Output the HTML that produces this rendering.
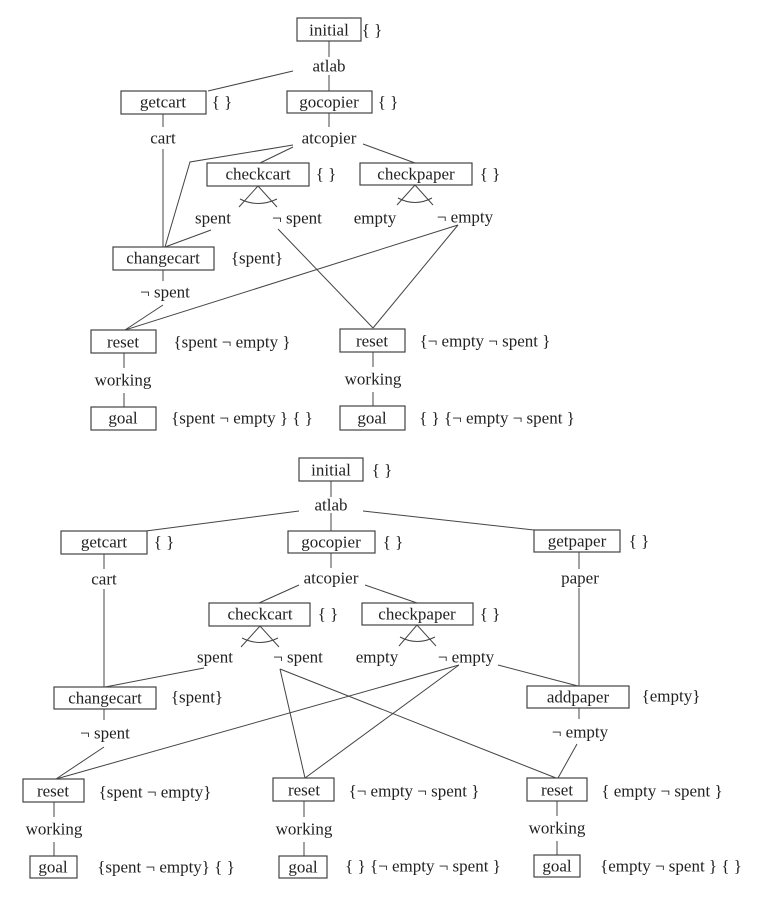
<!DOCTYPE html>
<html><head><meta charset="utf-8"><style>
html,body{margin:0;padding:0;background:#fff;}
svg{display:block;}
text{font-family:"Liberation Serif",serif;font-size:17px;fill:#222;text-anchor:middle;dominant-baseline:central;}
rect{fill:none;stroke:#444;stroke-width:1.2;}
line,polyline,path{stroke:#444;stroke-width:1;fill:none;}
</style></head><body>
<svg width="763" height="898" viewBox="0 0 763 898">
<!-- TOP -->
<rect x="297" y="18" width="64" height="23"/><text x="329" y="30">initial</text><text x="372" y="30">{ }</text>
<line x1="329" y1="41" x2="329" y2="57"/><text x="329" y="66">atlab</text>
<line x1="329" y1="75" x2="329" y2="91"/>
<line x1="293" y1="71" x2="208" y2="91"/>
<rect x="121" y="91" width="85" height="23"/><text x="163" y="102">getcart</text><text x="222" y="102">{ }</text>
<rect x="287" y="91" width="85" height="22"/><text x="329" y="102">gocopier</text><text x="388" y="102">{ }</text>
<line x1="329" y1="113" x2="329" y2="127"/><text x="329" y="138">atcopier</text>
<line x1="163" y1="114" x2="163" y2="127"/><text x="163" y="138">cart</text>
<line x1="163" y1="149" x2="163" y2="247"/>
<polyline points="293,145 190,162 165,247"/>
<line x1="293" y1="147" x2="260" y2="163"/>
<line x1="363" y1="144" x2="415" y2="163"/>
<rect x="207" y="163" width="102" height="23"/><text x="258" y="174">checkcart</text><text x="326" y="174">{ }</text>
<rect x="360" y="163" width="112" height="22"/><text x="416" y="174">checkpaper</text><text x="490" y="174">{ }</text>
<polyline points="239,207 258,186 277,207"/><path d="M240,199 Q258,208 277,199"/>
<polyline points="397,205 415,185 433,205"/><path d="M398,198 Q415,207 432,198"/>
<text x="213" y="218">spent</text><text x="297" y="218">¬ spent</text>
<text x="375" y="218">empty</text><text x="465" y="217">¬ empty</text>
<line x1="211" y1="230" x2="165" y2="247"/>
<rect x="113" y="247" width="101" height="23"/><text x="163" y="258">changecart</text><text x="257" y="258">{spent}</text>
<line x1="163" y1="270" x2="163" y2="281"/><text x="165" y="292">¬ spent</text>
<line x1="163" y1="305" x2="125" y2="330"/>
<line x1="278" y1="229" x2="373" y2="328"/>
<line x1="458" y1="225" x2="373" y2="328"/>
<line x1="458" y1="225" x2="125" y2="330"/>
<rect x="91" y="330" width="65" height="23"/><text x="123" y="342">reset</text><text x="232" y="342">{spent ¬ empty }</text>
<rect x="340" y="329" width="65" height="23"/><text x="372" y="341">reset</text><text x="485" y="341">{¬ empty ¬ spent }</text>
<line x1="124" y1="353" x2="124" y2="368"/><text x="123" y="380">working</text><line x1="124" y1="393" x2="124" y2="407"/>
<line x1="373" y1="352" x2="373" y2="367"/><text x="373" y="379">working</text><line x1="373" y1="392" x2="373" y2="406"/>
<rect x="91" y="407" width="65" height="23"/><text x="123" y="418">goal</text><text x="242" y="418">{spent ¬ empty } { }</text>
<rect x="340" y="406" width="65" height="24"/><text x="372" y="418">goal</text><text x="497" y="418">{ } {¬ empty ¬ spent }</text>

<!-- BOTTOM -->
<rect x="299" y="458" width="64" height="23"/><text x="331" y="470">initial</text><text x="382" y="470">{ }</text>
<line x1="331" y1="481" x2="331" y2="497"/><text x="331" y="505">atlab</text>
<line x1="331" y1="513" x2="331" y2="531"/>
<line x1="299" y1="511" x2="146" y2="531"/>
<line x1="363" y1="511" x2="534" y2="530"/>
<rect x="61" y="531" width="86" height="23"/><text x="104" y="542">getcart</text><text x="164" y="542">{ }</text>
<rect x="288" y="531" width="87" height="22"/><text x="331" y="542">gocopier</text><text x="393" y="542">{ }</text>
<rect x="534" y="530" width="86" height="22"/><text x="577" y="541">getpaper</text><text x="639" y="541">{ }</text>
<line x1="104" y1="554" x2="104" y2="569"/><text x="104" y="579">cart</text><line x1="104" y1="589" x2="104" y2="687"/>
<line x1="331" y1="553" x2="331" y2="568"/><text x="331" y="578">atcopier</text>
<line x1="579" y1="552" x2="579" y2="569"/><text x="580" y="578">paper</text><line x1="579" y1="588" x2="579" y2="686"/>
<line x1="299" y1="585" x2="259" y2="603"/>
<line x1="365" y1="585" x2="417" y2="603"/>
<rect x="209" y="603" width="101" height="23"/><text x="260" y="614">checkcart</text><text x="328" y="614">{ }</text>
<rect x="362" y="603" width="111" height="22"/><text x="417" y="614">checkpaper</text><text x="490" y="614">{ }</text>
<polyline points="241,647 260,626 279,647"/><path d="M242,638 Q260,647 278,638"/>
<polyline points="399,646 417,625 436,646"/><path d="M400,637 Q417,646 435,637"/>
<text x="215" y="657">spent</text><text x="298" y="657">¬ spent</text>
<text x="377" y="657">empty</text><text x="466" y="657">¬ empty</text>
<line x1="204" y1="668" x2="105" y2="687"/>
<line x1="280" y1="669" x2="305" y2="778"/>
<line x1="280" y1="669" x2="556" y2="778"/>
<line x1="459" y1="665" x2="56" y2="779"/>
<line x1="459" y1="665" x2="305" y2="778"/>
<line x1="498" y1="665" x2="578" y2="686"/>
<rect x="54" y="687" width="102" height="22"/><text x="105" y="698">changecart</text><text x="197" y="697">{spent}</text>
<rect x="527" y="686" width="102" height="22"/><text x="578" y="697">addpaper</text><text x="671" y="696">{empty}</text>
<line x1="104" y1="709" x2="104" y2="720"/><text x="105" y="733">¬ spent</text><line x1="104" y1="747" x2="56" y2="779"/>
<line x1="579" y1="708" x2="579" y2="719"/><text x="580" y="732">¬ empty</text><line x1="577" y1="744" x2="558" y2="778"/>
<rect x="23" y="779" width="61" height="23"/><text x="53" y="791">reset</text><text x="155" y="792">{spent ¬ empty}</text>
<rect x="273" y="778" width="61" height="23"/><text x="304" y="790">reset</text><text x="414" y="791">{¬ empty ¬ spent }</text>
<rect x="527" y="778" width="60" height="23"/><text x="557" y="790">reset</text><text x="662" y="791">{ empty ¬ spent }</text>
<line x1="54" y1="802" x2="54" y2="817"/><text x="54" y="829">working</text><line x1="54" y1="842" x2="54" y2="856"/>
<line x1="304" y1="801" x2="304" y2="817"/><text x="304" y="829">working</text><line x1="304" y1="842" x2="304" y2="856"/>
<line x1="557" y1="801" x2="557" y2="816"/><text x="557" y="828">working</text><line x1="557" y1="841" x2="557" y2="855"/>
<rect x="30" y="856" width="47" height="22"/><text x="53" y="867">goal</text><text x="166" y="867">{spent ¬ empty} { }</text>
<rect x="279" y="856" width="48" height="22"/><text x="303" y="867">goal</text><text x="423" y="866">{ } {¬ empty ¬ spent }</text>
<rect x="534" y="855" width="46" height="22"/><text x="557" y="866">goal</text><text x="671" y="866">{empty ¬ spent } { }</text>
</svg>
</body></html>
